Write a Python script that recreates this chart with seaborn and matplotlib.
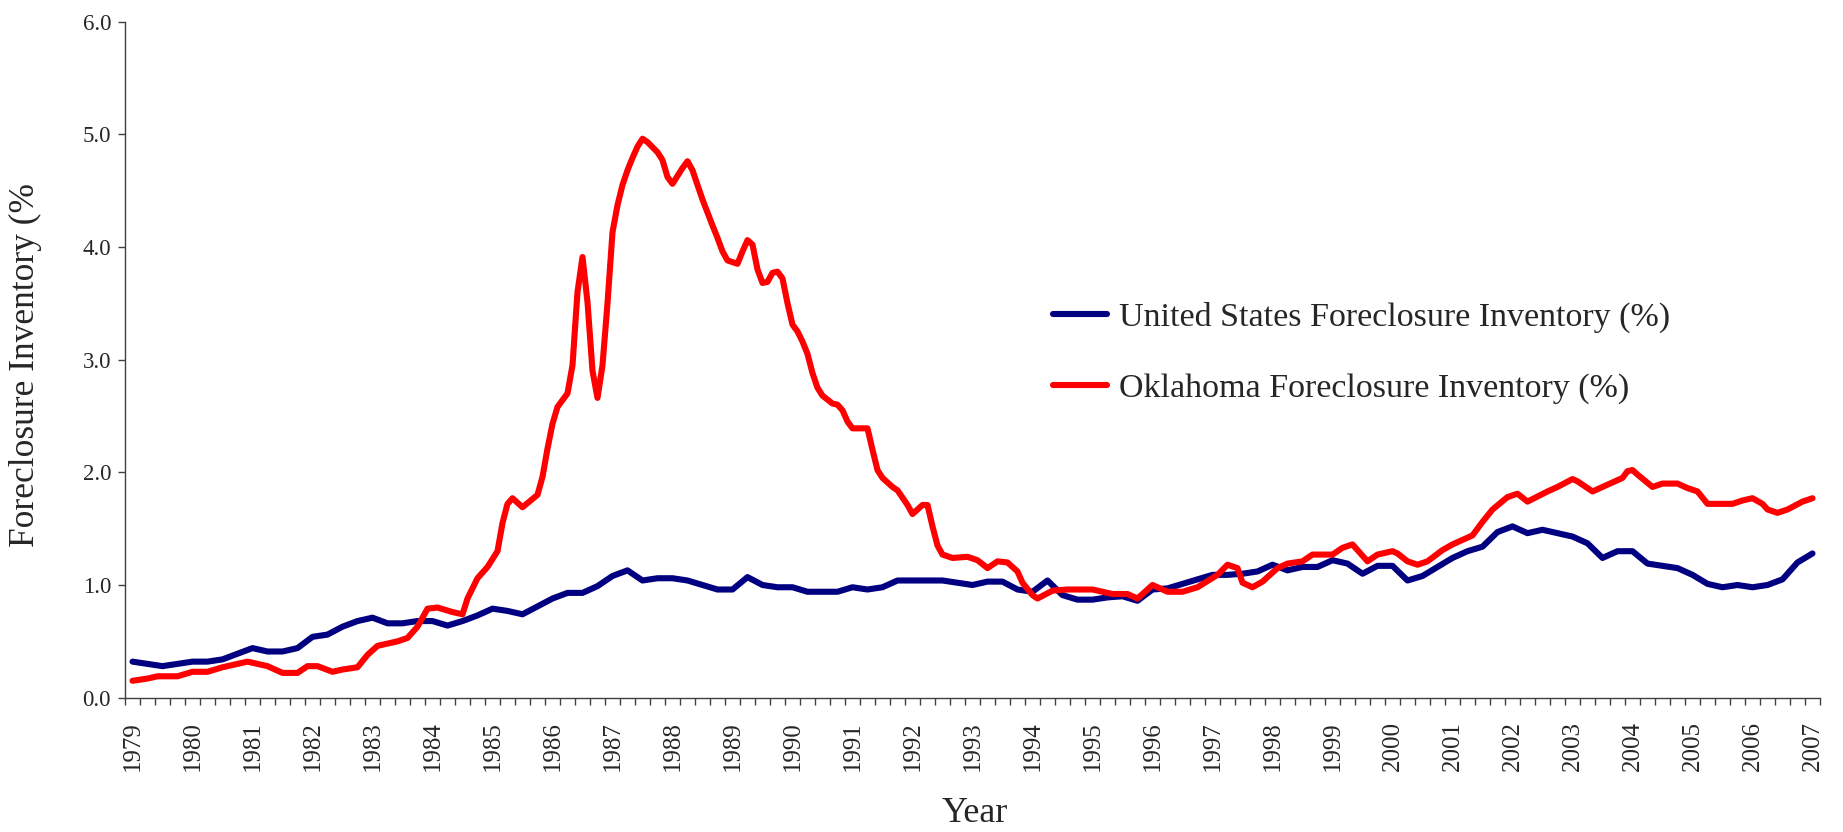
import numpy as np
import pandas as pd
import seaborn as sns
import matplotlib.pyplot as plt

# US quarterly foreclosure inventory, 1979Q1 .. 2007Q1
us_values = [0.32, 0.30, 0.28, 0.30, 0.32, 0.32, 0.34, 0.39,
             0.44, 0.41, 0.41, 0.44, 0.54, 0.56, 0.63, 0.68,
             0.71, 0.66, 0.66, 0.68, 0.68, 0.64, 0.68, 0.73,
             0.79, 0.77, 0.74, 0.81, 0.88, 0.93, 0.93, 0.99,
             1.08, 1.13, 1.04, 1.06, 1.06, 1.04, 1.00, 0.96,
             0.96, 1.07, 1.00, 0.98, 0.98, 0.94, 0.94, 0.94,
             0.98, 0.96, 0.98, 1.04, 1.04, 1.04, 1.04, 1.02,
             1.00, 1.03, 1.03, 0.96, 0.94, 1.04, 0.91, 0.87,
             0.87, 0.89, 0.90, 0.86, 0.96, 0.97, 1.01, 1.05,
             1.09, 1.09, 1.10, 1.12, 1.18, 1.13, 1.16, 1.16,
             1.22, 1.19, 1.10, 1.17, 1.17, 1.04, 1.08, 1.16,
             1.24, 1.30, 1.34, 1.47, 1.52, 1.46, 1.49, 1.46,
             1.43, 1.37, 1.24, 1.30, 1.30, 1.19, 1.17, 1.15,
             1.09, 1.01, 0.98, 1.00, 0.98, 1.00, 1.05, 1.20,
             1.28]
us_quarters = pd.period_range("1979Q1", "2007Q1", freq="Q")

# Oklahoma monthly foreclosure inventory (read at turning points)
ok_dates = ["1979-01", "1979-04", "1979-06", "1979-10", "1980-01", "1980-04", "1980-07", "1980-10",
            "1980-12", "1981-04", "1981-07", "1981-10", "1981-12", "1982-02", "1982-05", "1982-07",
            "1982-10", "1982-12", "1983-02", "1983-06", "1983-08", "1983-10", "1983-12", "1984-02",
            "1984-05", "1984-07", "1984-08", "1984-10", "1984-12", "1985-02", "1985-03", "1985-04",
            "1985-05", "1985-07", "1985-10", "1985-11", "1985-12", "1986-01", "1986-02", "1986-04",
            "1986-05", "1986-06", "1986-07", "1986-08", "1986-09", "1986-10", "1986-11", "1986-12",
            "1987-01", "1987-02", "1987-03", "1987-04", "1987-05", "1987-06", "1987-07", "1987-08",
            "1987-10", "1987-11", "1987-12", "1988-01", "1988-03", "1988-04", "1988-05", "1988-06",
            "1988-07", "1988-09", "1988-10", "1988-11", "1988-12", "1989-02", "1989-03", "1989-04",
            "1989-05", "1989-06", "1989-07", "1989-08", "1989-09", "1989-10", "1989-11", "1989-12",
            "1990-01", "1990-02", "1990-03", "1990-04", "1990-05", "1990-06", "1990-07", "1990-09",
            "1990-10", "1990-11", "1990-12", "1991-01", "1991-04", "1991-05", "1991-06", "1991-07",
            "1991-09", "1991-10", "1991-12", "1992-01", "1992-03", "1992-04", "1992-05", "1992-06",
            "1992-07", "1992-09", "1992-12", "1993-02", "1993-04", "1993-06", "1993-08", "1993-10",
            "1993-11", "1994-01", "1994-02", "1994-05", "1994-08", "1995-01", "1995-05", "1995-08",
            "1995-10", "1996-01", "1996-04", "1996-07", "1996-10", "1997-02", "1997-04", "1997-06",
            "1997-07", "1997-09", "1997-11", "1998-02", "1998-04", "1998-07", "1998-09", "1999-01",
            "1999-03", "1999-05", "1999-06", "1999-08", "1999-10", "2000-01", "2000-02", "2000-04",
            "2000-06", "2000-08", "2000-11", "2001-01", "2001-05", "2001-07", "2001-09", "2001-12",
            "2002-02", "2002-04", "2002-08", "2002-10", "2003-01", "2003-02", "2003-05", "2003-07",
            "2003-11", "2003-12", "2004-01", "2004-02", "2004-05", "2004-07", "2004-10", "2004-12",
            "2005-02", "2005-04", "2005-09", "2005-11", "2006-01", "2006-03", "2006-04", "2006-06",
            "2006-08", "2006-11", "2007-01"]
ok_values = [0.15, 0.17, 0.19, 0.19, 0.23, 0.23, 0.27, 0.30,
             0.32, 0.28, 0.22, 0.22, 0.28, 0.28, 0.23, 0.25,
             0.27, 0.38, 0.46, 0.50, 0.53, 0.63, 0.79, 0.80,
             0.76, 0.74, 0.88, 1.06, 1.16, 1.30, 1.55, 1.72,
             1.77, 1.69, 1.80, 1.96, 2.21, 2.43, 2.58, 2.70,
             2.95, 3.60, 3.91, 3.51, 2.90, 2.66, 2.95, 3.50,
             4.13, 4.37, 4.55, 4.68, 4.79, 4.89, 4.96, 4.93,
             4.84, 4.77, 4.62, 4.56, 4.70, 4.76, 4.68, 4.55,
             4.42, 4.19, 4.08, 3.96, 3.88, 3.85, 3.96, 4.06,
             4.02, 3.80, 3.68, 3.69, 3.77, 3.78, 3.72, 3.50,
             3.31, 3.25, 3.16, 3.05, 2.88, 2.75, 2.68, 2.61,
             2.60, 2.55, 2.45, 2.39, 2.39, 2.20, 2.02, 1.95,
             1.87, 1.84, 1.71, 1.63, 1.71, 1.71, 1.52, 1.35,
             1.27, 1.24, 1.25, 1.22, 1.15, 1.21, 1.20, 1.12,
             1.02, 0.91, 0.88, 0.95, 0.96, 0.96, 0.92, 0.92,
             0.88, 1.00, 0.94, 0.94, 0.98, 1.09, 1.18, 1.15,
             1.02, 0.98, 1.03, 1.15, 1.19, 1.21, 1.27, 1.27,
             1.33, 1.36, 1.31, 1.21, 1.27, 1.30, 1.28, 1.21,
             1.18, 1.21, 1.31, 1.36, 1.44, 1.56, 1.67, 1.78,
             1.81, 1.74, 1.83, 1.87, 1.94, 1.92, 1.83, 1.87,
             1.95, 2.01, 2.02, 1.98, 1.87, 1.90, 1.90, 1.86,
             1.83, 1.72, 1.72, 1.75, 1.77, 1.72, 1.67, 1.64,
             1.67, 1.74, 1.77]

year_labels = [str(y) for y in range(1979, 2008)]
y_ticks = [0, 1, 2, 3, 4, 5, 6]

us_label = "United States Foreclosure Inventory (%)"
ok_label = "Oklahoma Foreclosure Inventory (%)"

# category axis: one slot per quarter, counted from 1979Q1
us_df = pd.DataFrame({"pos": np.arange(len(us_quarters)), "value": us_values})
ok_idx = pd.to_datetime(ok_dates)
ok_df = pd.DataFrame({"pos": ((ok_idx.year - 1979) * 12 + ok_idx.month - 1) / 3.0,
                      "value": ok_values})

sns.set_theme(style="white")
plt.rcParams["font.family"] = ["Liberation Serif", "DejaVu Serif"]

fig = plt.figure(figsize=(18.43, 8.32), dpi=100)
ax = fig.add_axes([125 / 1843, 1 - 697.7 / 832, 1695 / 1843, 676.2 / 832])

sns.lineplot(data=us_df, x="pos", y="value", ax=ax, color="#000080", lw=4.4,
             label=us_label, solid_joinstyle="round", solid_capstyle="round")
sns.lineplot(data=ok_df, x="pos", y="value", ax=ax, color="#FF0000", lw=4.4,
             label=ok_label, solid_joinstyle="round", solid_capstyle="round")

ax.set_xlim(-0.5, len(us_quarters) - 0.5)
ax.set_ylim(0, 6)

ax.set_yticks(y_ticks)
ax.set_yticklabels([f"{v:.1f}" for v in y_ticks], fontsize=16.5)
ax.set_xticks(np.arange(0, len(us_quarters), 4))
ax.set_xticklabels(year_labels, rotation=90, fontsize=18)
ax.set_xticks(np.arange(len(us_quarters) + 1) - 0.5, minor=True)

ax.tick_params(axis="y", which="major", direction="out", length=5, width=1,
               color="#404040", pad=5, left=True)
ax.tick_params(axis="x", which="major", length=0, pad=17, bottom=True)
ax.tick_params(axis="x", which="minor", direction="out", length=5, width=1,
               color="#404040", bottom=True)

for side in ["top", "right"]:
    ax.spines[side].set_visible(False)
for side in ["left", "bottom"]:
    ax.spines[side].set_color("#404040")
    ax.spines[side].set_linewidth(1)

ax.set_xlabel("Year", fontsize=26)
ax.set_ylabel("Foreclosure Inventory (%", fontsize=25.5)
ax.xaxis.set_label_coords(0.5015, -0.147)
ax.yaxis.set_label_coords(-0.049, 0.492)

leg = ax.legend(loc="center left", bbox_to_anchor=(1036 / 1843, 1 - 353 / 832),
                bbox_transform=fig.transFigure, frameon=False, fontsize=24.5,
                handlelength=1.6, handletextpad=0.35, labelspacing=1.16, borderpad=0)

fig.savefig("out.png", dpi=100)
